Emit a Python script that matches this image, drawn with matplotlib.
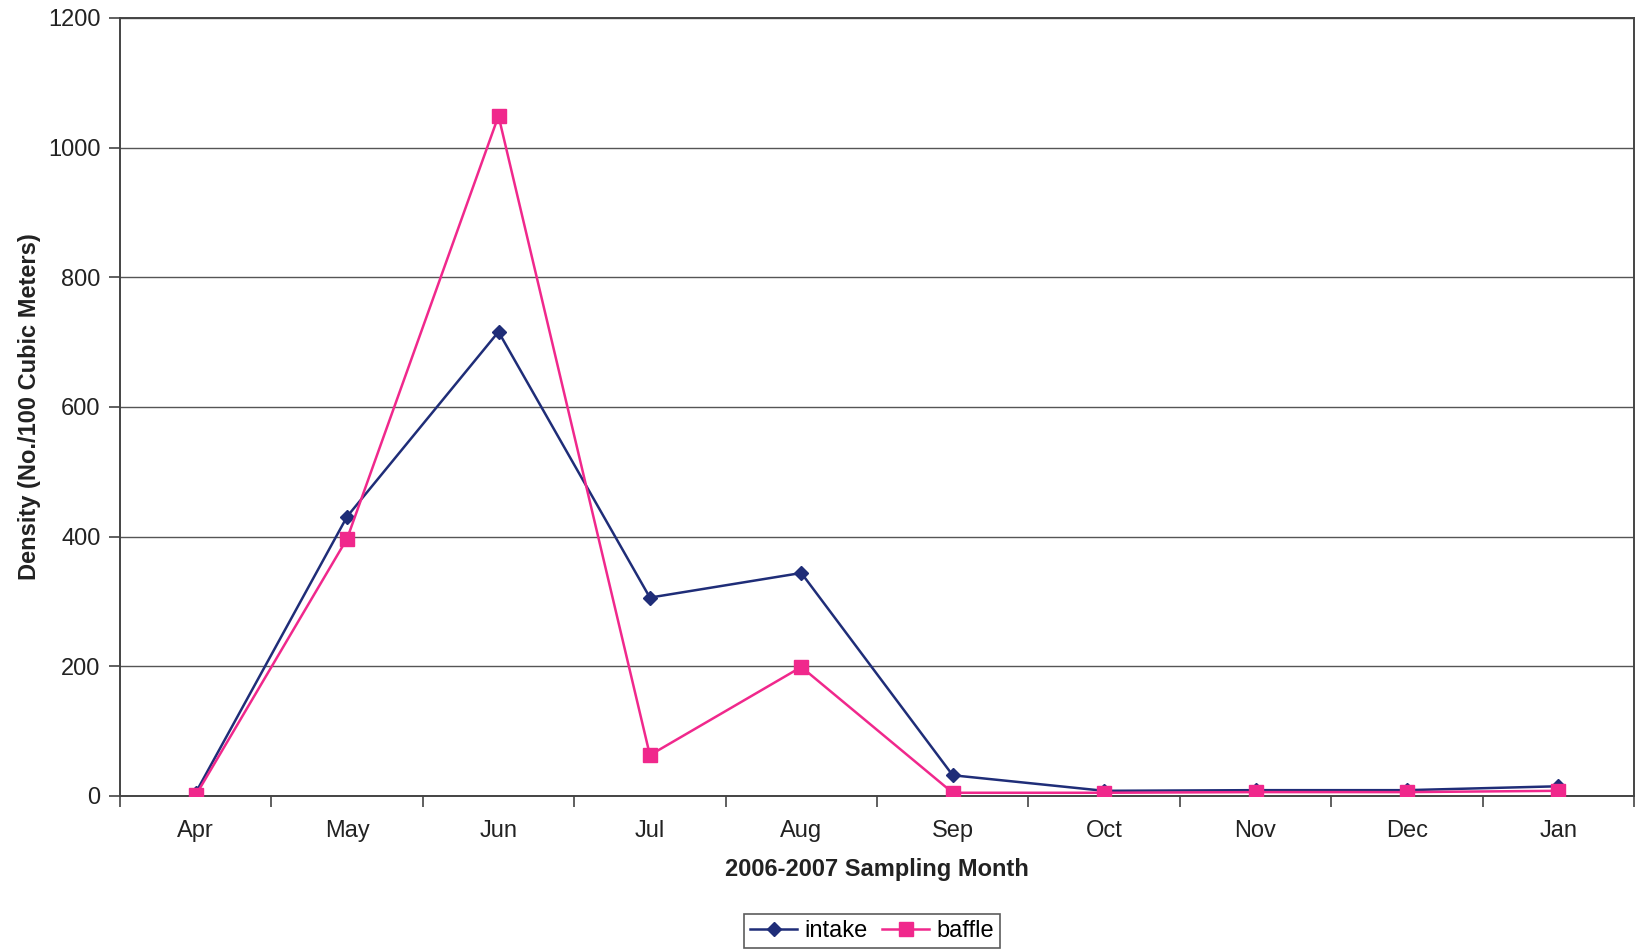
import matplotlib
matplotlib.use("Agg")
import matplotlib.pyplot as plt
import numpy as np

plt.rcParams['font.family'] = ['Liberation Sans', 'DejaVu Sans']

months = ["Apr", "May", "Jun", "Jul", "Aug", "Sep", "Oct", "Nov", "Dec", "Jan"]
intake = [5, 431, 716, 306, 344, 32, 8, 9, 9, 15]
baffle = [1, 397, 1049, 63, 199, 5, 5, 6, 6, 8]

navy = "#1F2D78"
pink = "#F0288C"

fig = plt.figure(figsize=(16.36, 9.5), dpi=100)
ax = fig.add_axes([120 / 1636, 1 - 796 / 950, (1634 - 120) / 1636, (796 - 18) / 950])

x = np.arange(len(months))
ax.plot(x, intake, color=navy, lw=1.8, marker="D", ms=7.5, mec=navy, mfc=navy, label="intake", zorder=3)
ax.plot(x, baffle, color=pink, lw=1.8, marker="s", ms=10, mec=pink, mfc=pink, label="baffle", zorder=3)

ax.set_xlim(-0.5, len(months) - 0.5)
ax.set_ylim(0, 1200)
ax.set_yticks(np.arange(0, 1201, 200))
ax.set_xticks(x)
ax.set_xticklabels(months)
ax.set_xticks(np.arange(-0.5, len(months), 1), minor=True)
ax.tick_params(axis="x", which="major", length=0, pad=17, labelsize=17, colors="#222222")
ax.tick_params(axis="x", which="minor", length=8, width=1.2, color="#444444", direction="out")
ax.tick_params(axis="y", length=8, width=1.2, color="#444444", direction="out", pad=6,
               labelsize=17, labelcolor="#222222")

ax.grid(axis="y", color="#555555", lw=1.0)
ax.set_axisbelow(True)
for s in ax.spines.values():
    s.set_color("#444444")
    s.set_linewidth(1.4)

ax.set_xlabel("2006-2007 Sampling Month", fontsize=17, fontweight="bold", color="#222222", labelpad=12)
ax.set_ylabel("Density (No./100 Cubic Meters)", fontsize=17, fontweight="bold", color="#222222", labelpad=5)

leg = fig.legend(loc="center", bbox_to_anchor=(872 / 1636, 1 - 931 / 950), ncol=2, fontsize=17,
                 frameon=True, fancybox=False, edgecolor="#333333", handlelength=2.0,
                 columnspacing=0.6, handletextpad=0.3, borderpad=0.25)
leg.get_frame().set_linewidth(1.2)

fig.savefig("out.png", dpi=100)
